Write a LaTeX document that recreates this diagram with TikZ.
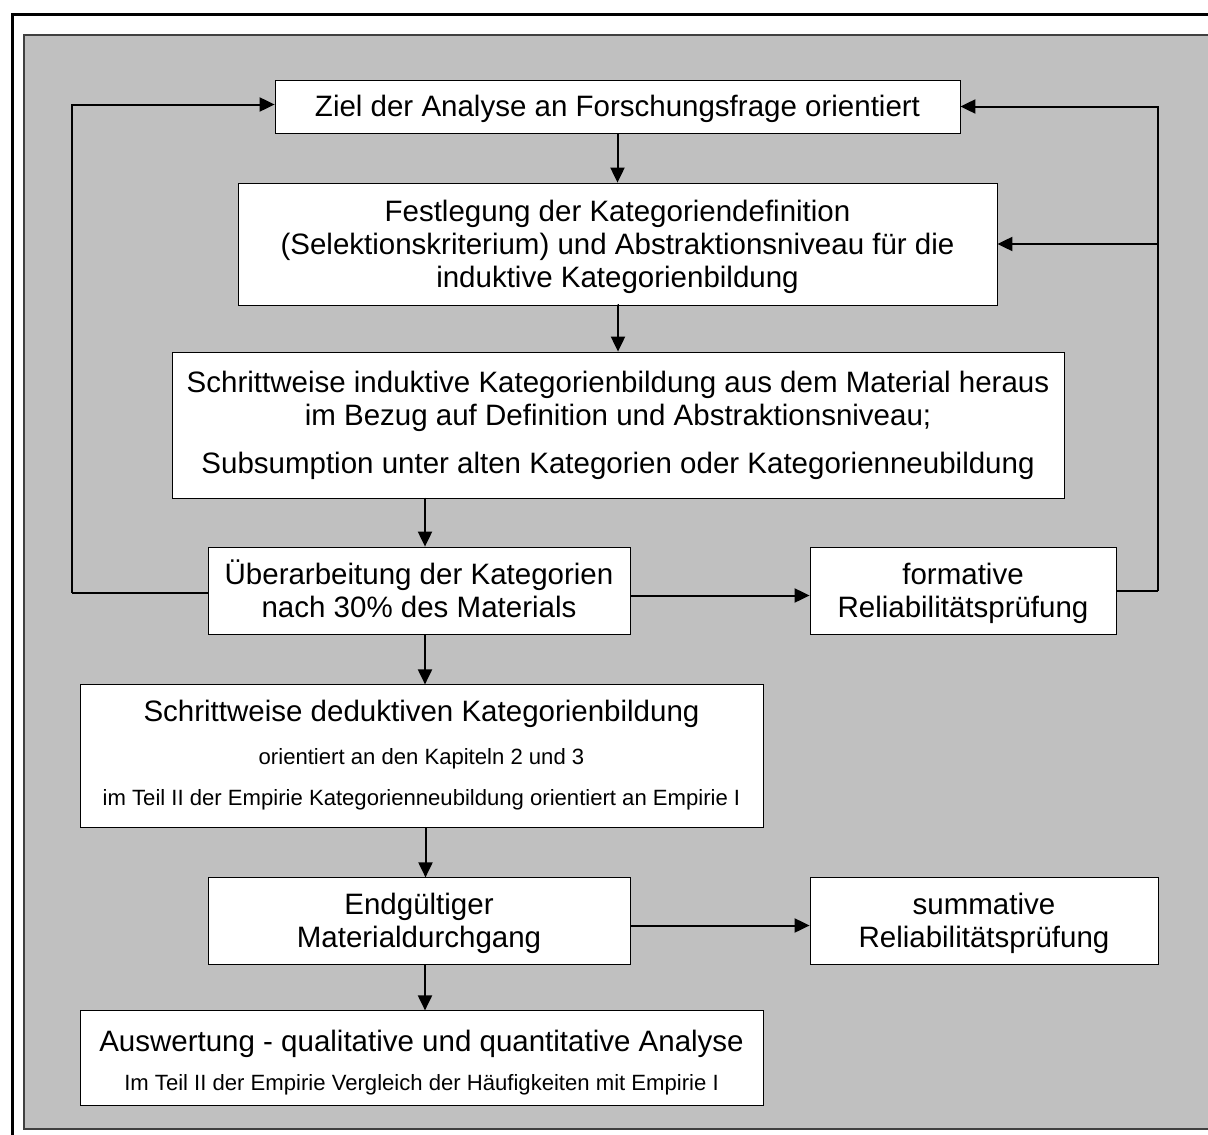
\documentclass[tikz,border=0pt]{standalone}
\usepackage{fontspec}
\setmainfont{Liberation Sans}
\usetikzlibrary{arrows.meta,calc}
\tikzset{
stepbox/.style={
	  draw, thick, fill=white, align=center, inner sep=0pt,
	    font=\fontsize{29.5}{33}\selectfont},
flow/.style={
	  line width=2pt, -{Triangle[length=15pt,width=14pt]}},
feed/.style={line width=2pt}
}
\newcommand{\smalltxt}{\fontsize{22.1}{24}\selectfont}
\newcommand{\padtop}[1]{\rule{0pt}{#1pt}}

\begin{document}
\begin{tikzpicture}[x=1pt, y=-1pt, line join=miter]
	\useasboundingbox (0,0) rectangle (1208,1135);
	\fill[white] (0,0) rectangle (1208,1135);
	\fill[fill={rgb,255:red,192;green,192;blue,192}] (24,35) rectangle (1208,1129);
	\draw[draw={rgb,255:red,64;green,64;blue,64}, line width=2pt] (1208,1129) -- (24,1129) -- (24,35) -- (1208,35);
	\draw[line width=3pt] (12,1135) -- (12,14) -- (1208,14);
	% boxes
	\node[stepbox, minimum width=685pt, minimum height=53pt] (ziel) at (617.5,106.5)
		{\padtop{26}Ziel der Analyse an Forschungsfrage orientiert};
	\node[stepbox, minimum width=759pt, minimum height=122pt] (fest) at (617.5,244)
		{\padtop{28}Festlegung der Kategoriendefinition\\(Selektionskriterium) und Abstraktionsniveau f\"ur die\\induktive Kategorienbildung};
	\node[stepbox, minimum width=892pt, minimum height=146pt] (induk) at (618,425)
		{Schrittweise induktive Kategorienbildung aus dem Material heraus\\im Bezug auf Definition und Abstraktionsniveau;\\[15pt]Subsumption unter alten Kategorien oder Kategorienneubildung};
	\node[stepbox, minimum width=422pt, minimum height=87pt] (ueber) at (419,590.5)
		{\"Uberarbeitung der Kategorien\\nach 30\% des Materials\rule[-4pt]{0pt}{0pt}};
	\node[stepbox, minimum width=306pt, minimum height=87pt] (formrel) at (963,590.5)
		{\padtop{28}formative\\Reliabilit\"atspr\"ufung};
	\node[stepbox, minimum width=683pt, minimum height=143pt] (dedukt) at (421.5,755.5)
		{Schrittweise deduktiven Kategorienbildung\\[10pt]{\smalltxt orientiert an den Kapiteln 2 und 3}\\[8pt]{\smalltxt im Teil II der Empirie Kategorienneubildung orientiert an Empirie I}};
	\node[stepbox, minimum width=422pt, minimum height=87pt] (endg) at (419,920.5)
		{\padtop{28}Endg\"ultiger\\Materialdurchgang};
	\node[stepbox, minimum width=348pt, minimum height=87pt] (summ) at (984,920.5)
		{\padtop{28}summative\\Reliabilit\"atspr\"ufung};
	\node[stepbox, minimum width=683pt, minimum height=95pt] (ausw) at (421.5,1057.5)
		{\padtop{31}Auswertung - qualitative und quantitative Analyse\\[6pt]{\smalltxt Im Teil II der Empirie Vergleich der H\"aufigkeiten mit Empirie I}};
	% main flow
	\draw[flow] (ziel.south) -- (fest.north);
	\draw[flow] (fest.south) -- (induk.south |- fest.south) -- (induk.north);
	\draw[flow] ($(ueber.north)+(6,-49)$) -- ($(ueber.north)+(6,0)$);
	\draw[flow] ($(ueber.south)+(6,0)$) -- ($(ueber.south)+(6,50)$);
	\draw[flow] ($(dedukt.south)+(4,0)$) -- ($(dedukt.south)+(4,50)$);
	\draw[flow] ($(endg.south)+(6,0)$) -- ($(endg.south)+(6,46)$);
	\draw[flow] ($(ueber.east)+(0,5)$) -- ($(formrel.west)+(0,5)$);
	\draw[flow] ($(endg.east)+(0,5)$) -- ($(summ.west)+(0,5)$);
	% feedback loops
	\coordinate (fbL) at ($(ueber.west)+(-136,2)$);
	\coordinate (fbR) at ($(formrel.east)+(42,0)$);
	\draw[feed] ($(ueber.west)+(0,2)$) -- (fbL);
	\draw[flow] (fbL) |- ($(ziel.west)+(0,-2)$);
	\draw[feed] (formrel.east) -- (fbR);
	\draw[flow] (fbR) |- (ziel.east);
	\draw[flow] (fbR |- fest.east) -- (fest.east);
\end{tikzpicture}
\end{document}
